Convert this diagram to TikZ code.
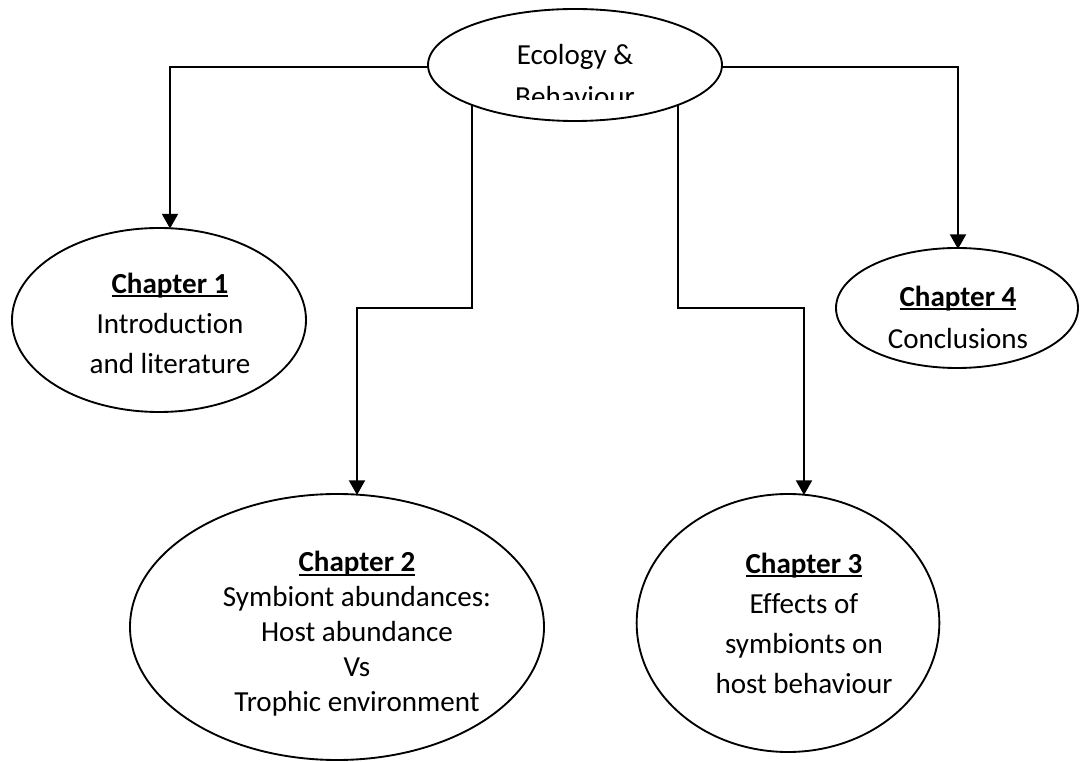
\documentclass[tikz,border=0pt]{standalone}
\usepackage{fontspec}
\setmainfont[Ligatures=NoCommon]{Carlito}
\usetikzlibrary{shapes.geometric,arrows.meta}
\tikzset{
  oval/.style={draw, ellipse, line width=1.4pt, inner sep=0pt, fill=white},
  txt/.style={align=center, inner sep=0pt, font=\fontsize{21.8}{30}\selectfont},
  txttight/.style={align=center, inner sep=0pt, font=\fontsize{21.8}{26.3}\selectfont},
  conn/.style={line width=1.5pt},
  arr/.style={line width=1.5pt, -{Triangle[length=11pt,width=12pt]}}
}
\newcommand{\chap}[1]{\setbox0\hbox{\textbf{#1}}\leavevmode\rlap{\rule[-3pt]{\wd0}{1.3pt}}\box0}
\begin{document}
\begin{tikzpicture}[x=0.75pt,y=-0.75pt]
\useasboundingbox (0,0) rectangle (1082,762);
% ellipses
\node[oval, minimum width=220.5pt, minimum height=84pt] (top) at (575,65) {};
\node[oval, minimum width=220.5pt, minimum height=138pt] (c1) at (159,320) {};
\node[oval, minimum width=181.5pt, minimum height=90pt] (c4) at (957,308) {};
\node[oval, minimum width=310.5pt, minimum height=199.5pt] (c2) at (337,627) {};
\node[oval, minimum width=227pt, minimum height=193.5pt] (c3) at (788,623) {};
% texts
\begin{scope}
\clip (300,0) rectangle (850,100);
\node[txt, font=\fontsize{21.8}{31.5}\selectfont] (ttop) at (575,76) {Ecology \&\\Behaviour};
\end{scope}
\node[txt] (t1) at (170,323) {\chap{Chapter 1}\\Introduction\\and literature};
\node[txt, font=\fontsize{21.8}{31.5}\selectfont] (t4) at (958,317) {\chap{Chapter 4}\\Conclusions};
\node[txttight] (t2) at (357,634) {\chap{Chapter 2}\\Symbiont abundances:\\Host abundance\\Vs\\Trophic environment};
\node[txt] (t3) at (804,623) {\chap{Chapter 3}\\Effects of\\symbionts on\\host behaviour};
% connector coordinates
\coordinate (a1) at (170,228.5);
\coordinate (a4) at (958,249);
\coordinate (a2) at (357,495);
\coordinate (a3) at (804,495);
\coordinate (s2) at (472,105);
\coordinate (s3) at (678,105);
\coordinate (k2) at (472,308);
\coordinate (k3) at (678,308);
% connectors
\draw[arr] (top.west |- 0,67) -| (a1);
\draw[arr] (top.east |- 0,67) -| (a4);
\draw[arr] (s2) -- (k2) -| (a2);
\draw[arr] (s3) -- (k3) -| (a3);
\end{tikzpicture}
\end{document}
